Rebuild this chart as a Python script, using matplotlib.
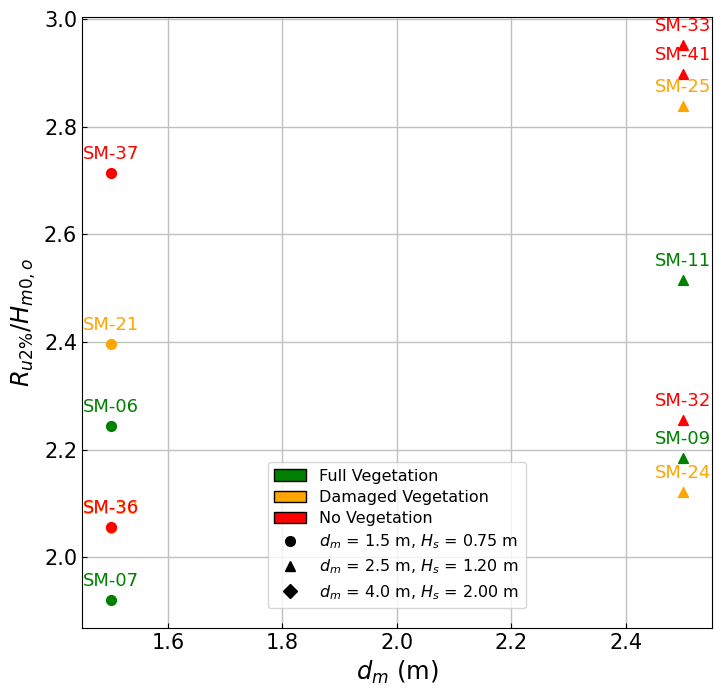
import matplotlib.pyplot as plt
from matplotlib.patches import Patch
from matplotlib.lines import Line2D

# Runup results per test
tests_15 = ["SM-37", "SM-21", "SM-06", "SM-30", "SM-36", "SM-07"]
ru_15 = [2.715, 2.396, 2.244, 2.055, 2.057, 1.920]
veg_15 = ["none", "damaged", "full", "damaged", "none", "full"]

tests_25 = ["SM-33", "SM-41", "SM-25", "SM-11", "SM-32", "SM-09", "SM-24"]
ru_25 = [2.952, 2.898, 2.839, 2.515, 2.256, 2.185, 2.122]
veg_25 = ["none", "none", "damaged", "full", "none", "full", "damaged"]

depth_15 = 1.5
depth_25 = 2.5

colors = {"full": "green", "damaged": "orange", "none": "red"}

fig, ax = plt.subplots(figsize=(7.14, 6.88), dpi=100)

for dm, names, vals, vegs, mk in [(depth_15, tests_15, ru_15, veg_15, "o"),
                                  (depth_25, tests_25, ru_25, veg_25, "^")]:
    for name, v, veg in zip(names, vals, vegs):
        ax.scatter(dm, v, color=colors[veg], marker=mk, s=50, zorder=3)
        ax.annotate(name, (dm, v), xytext=(0, 10), textcoords="offset points",
                    ha="center", color=colors[veg], fontsize=13)

ax.set_xlabel(r"$d_m$ (m)", fontsize=17.5)
ax.set_ylabel(r"$R_{u2\%}/H_{m0,o}$", fontsize=17.5)
ax.tick_params(direction="in", labelsize=15)
ax.set_xticks([1.6, 1.8, 2.0, 2.2, 2.4])
ax.grid(True, color="#c0c0c0", linewidth=1)
ax.set_axisbelow(True)

handles = [
    Patch(facecolor="green", edgecolor="black", label="Full Vegetation"),
    Patch(facecolor="orange", edgecolor="black", label="Damaged Vegetation"),
    Patch(facecolor="red", edgecolor="black", label="No Vegetation"),
    Line2D([], [], marker="o", color="black", linestyle="none", markersize=7,
           label=r"$d_m$ = 1.5 m, $H_s$ = 0.75 m"),
    Line2D([], [], marker="^", color="black", linestyle="none", markersize=7,
           label=r"$d_m$ = 2.5 m, $H_s$ = 1.20 m"),
    Line2D([], [], marker="D", color="black", linestyle="none", markersize=7,
           label=r"$d_m$ = 4.0 m, $H_s$ = 2.00 m"),
]
ax.legend(handles=handles, loc="lower center", bbox_to_anchor=(0.5, 0.02),
          fontsize=11.5, labelspacing=0.4)

fig.subplots_adjust(left=0.115, right=0.997, top=0.975, bottom=0.087)
fig.savefig("out.png", dpi=100)
